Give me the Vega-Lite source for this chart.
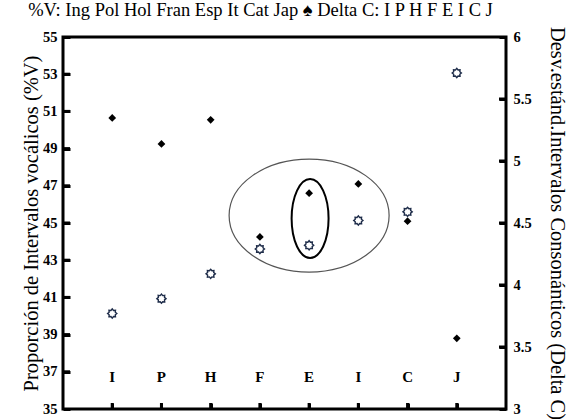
{
  "$schema": "https://vega.github.io/schema/vega-lite/v6.json",
  "autosize": "none",
  "width": 443,
  "height": 372,
  "padding": {"left": 63, "top": 37, "right": 64, "bottom": 10},
  "background": "white",
  "config": {
    "view": {"stroke": "black", "strokeWidth": 3},
    "font": "Liberation Serif"
  },
  "title": {
    "text": "%V: Ing Pol Hol Fran Esp It Cat Jap ♠ Delta C: I P H F E I C J",
    "font": "Liberation Serif",
    "fontSize": 18.5,
    "fontWeight": "normal",
    "color": "black",
    "anchor": "middle",
    "dx": -24,
    "offset": 7
  },
  "datasets": {
    "pts": [
      {"pos": 1, "letter": "I", "V": 50.65, "DC": 3.77},
      {"pos": 2, "letter": "P", "V": 49.25, "DC": 3.89},
      {"pos": 3, "letter": "H", "V": 50.55, "DC": 4.09},
      {"pos": 4, "letter": "F", "V": 44.25, "DC": 4.29},
      {"pos": 5, "letter": "E", "V": 46.6, "DC": 4.32},
      {"pos": 6, "letter": "I", "V": 47.1, "DC": 4.52},
      {"pos": 7, "letter": "C", "V": 45.1, "DC": 4.59},
      {"pos": 8, "letter": "J", "V": 38.8, "DC": 5.71}
    ],
    "leftTicks": [{"v": 37}, {"v": 39}, {"v": 41}, {"v": 43}, {"v": 45}, {"v": 47}, {"v": 49}, {"v": 51}, {"v": 53}],
    "rightTicks": [{"d": 3.5}, {"d": 4}, {"d": 4.5}, {"d": 5}, {"d": 5.5}],
    "bottomTicks": [{"p": 1}, {"p": 2}, {"p": 3}, {"p": 4}, {"p": 5}, {"p": 6}, {"p": 7}, {"p": 8}]
  },
  "resolve": {"scale": {"y": "independent"}, "axis": {"y": "independent"}},
  "layer": [
    {
      "data": {"name": "pts"},
      "mark": {"type": "point", "shape": "diamond", "size": 60, "filled": true, "color": "black", "opacity": 1},
      "encoding": {
        "x": {"field": "pos", "type": "quantitative", "scale": {"domain": [0, 9], "nice": false, "zero": false}, "axis": {"orient": "bottom", "offset": -6, "values": [1, 2, 3, 4, 5, 6, 7, 8], "labels": false, "title": null, "grid": false, "domain": false, "ticks": true, "tickSize": 6, "tickWidth": 3, "tickColor": "black", "tickOpacity": 1}},
        "y": {"field": "V", "type": "quantitative", "scale": {"domain": [35, 55], "zero": false, "nice": false}, "axis": {
          "orient": "left",
          "offset": -7,
          "values": [35, 37, 39, 41, 43, 45, 47, 49, 51, 53, 55],
          "labelOverlap": false,
          "labelFlush": false,
          "grid": false,
          "domain": false,
          "ticks": true,
          "tickSize": 7,
          "tickWidth": 3,
          "tickColor": "black",
          "tickOpacity": 1,
          "title": "Proporción de Intervalos vocálicos (%V)",
          "titleFont": "Liberation Serif",
          "titleFontSize": 20.5,
          "titleFontWeight": "normal",
          "titleColor": "black",
          "titlePadding": 1,
          "labelFont": "Liberation Serif",
          "labelFontSize": 14.5,
          "labelFontWeight": "bold",
          "labelColor": "black",
          "labelPadding": 6
        }}
      }
    },
    {
      "data": {"name": "leftTicks"},
      "mark": {"type": "tick", "orient": "horizontal", "thickness": 3, "color": "black", "opacity": 1, "xOffset": 3.5},
      "encoding": {
        "x": {"datum": 0, "type": "quantitative"},
        "y": {"field": "v", "type": "quantitative", "scale": {"domain": [35, 55], "zero": false, "nice": false}, "axis": null},
        "size": {"value": 7}
      }
    },
    {
      "data": {"name": "rightTicks"},
      "mark": {"type": "tick", "orient": "horizontal", "thickness": 3, "color": "black", "opacity": 1, "xOffset": -3.5},
      "encoding": {
        "x": {"datum": 9, "type": "quantitative"},
        "y": {"field": "d", "type": "quantitative", "scale": {"domain": [3, 6], "zero": false, "nice": false}, "axis": null},
        "size": {"value": 7}
      }
    },
    {
      "data": {"name": "bottomTicks"},
      "mark": {"type": "tick", "orient": "vertical", "thickness": 3, "color": "black", "opacity": 1, "yOffset": -3},
      "encoding": {
        "x": {"field": "p", "type": "quantitative"},
        "y": {"datum": 35, "type": "quantitative", "scale": {"domain": [35, 55], "zero": false, "nice": false}, "axis": null},
        "size": {"value": 6}
      }
    },
    {
      "data": {"values": [{"pos": 5, "V": 45.4}]},
      "mark": {
        "type": "point",
        "shape": "M -1,0 C -1,-0.39 -0.5523,-0.706 0,-0.706 C 0.5523,-0.706 1,-0.39 1,0 C 1,0.39 0.5523,0.706 0,0.706 C -0.5523,0.706 -1,0.39 -1,0 Z",
        "size": 25600,
        "filled": false,
        "stroke": "#555555",
        "strokeWidth": 1.2,
        "opacity": 1
      },
      "encoding": {
        "x": {"field": "pos", "type": "quantitative"},
        "y": {"field": "V", "type": "quantitative", "scale": {"domain": [35, 55], "zero": false, "nice": false}, "axis": null}
      }
    },
    {
      "data": {"values": [{"pos": 5.02, "V": 45.24}]},
      "mark": {
        "type": "point",
        "shape": "M -0.468,0 C -0.468,-0.5523 -0.2585,-1 0,-1 C 0.2585,-1 0.468,-0.5523 0.468,0 C 0.468,0.5523 0.2585,1 0,1 C -0.2585,1 -0.468,0.5523 -0.468,0 Z",
        "size": 6241,
        "filled": false,
        "stroke": "black",
        "strokeWidth": 2,
        "opacity": 1
      },
      "encoding": {
        "x": {"field": "pos", "type": "quantitative"},
        "y": {"field": "V", "type": "quantitative", "scale": {"domain": [35, 55], "zero": false, "nice": false}, "axis": null}
      }
    },
    {
      "data": {"name": "pts"},
      "mark": {"type": "text", "font": "Liberation Serif", "fontSize": 15, "fontWeight": "bold", "color": "black", "baseline": "middle", "dy": 5},
      "encoding": {
        "x": {"field": "pos", "type": "quantitative"},
        "y": {"datum": 37, "type": "quantitative", "scale": {"domain": [35, 55], "zero": false, "nice": false}, "axis": null},
        "text": {"field": "letter"}
      }
    },
    {
      "data": {"name": "pts"},
      "mark": {
        "type": "point",
        "shape": "M1,0 L0.665,0.276 L0.707,0.707 L0.276,0.665 L0,1 L-0.276,0.665 L-0.707,0.707 L-0.665,0.276 L-1,0 L-0.665,-0.276 L-0.707,-0.707 L-0.276,-0.665 L0,-1 L0.276,-0.665 L0.707,-0.707 L0.665,-0.276 Z",
        "size": 85,
        "filled": true,
        "fill": "white",
        "stroke": "#1f2d4a",
        "strokeWidth": 1.4,
        "opacity": 1
      },
      "encoding": {
        "x": {"field": "pos", "type": "quantitative"},
        "y": {"field": "DC", "type": "quantitative", "scale": {"domain": [3, 6], "zero": false, "nice": false}, "axis": {
          "orient": "right",
          "offset": -7,
          "values": [3, 3.5, 4, 4.5, 5, 5.5, 6],
          "format": "~g",
          "labelOverlap": false,
          "labelFlush": false,
          "grid": false,
          "domain": false,
          "ticks": true,
          "tickSize": 7,
          "tickWidth": 3,
          "tickColor": "black",
          "tickOpacity": 1,
          "title": "Desv.estánd.Intervalos Consonánticos (Delta C)",
          "titleFont": "Liberation Serif",
          "titleFontSize": 20.5,
          "titleFontWeight": "normal",
          "titleColor": "black",
          "titlePadding": 15,
          "labelFont": "Liberation Serif",
          "labelFontSize": 14.5,
          "labelFontWeight": "bold",
          "labelColor": "black",
          "labelPadding": 7
        }}
      }
    }
  ]
}
